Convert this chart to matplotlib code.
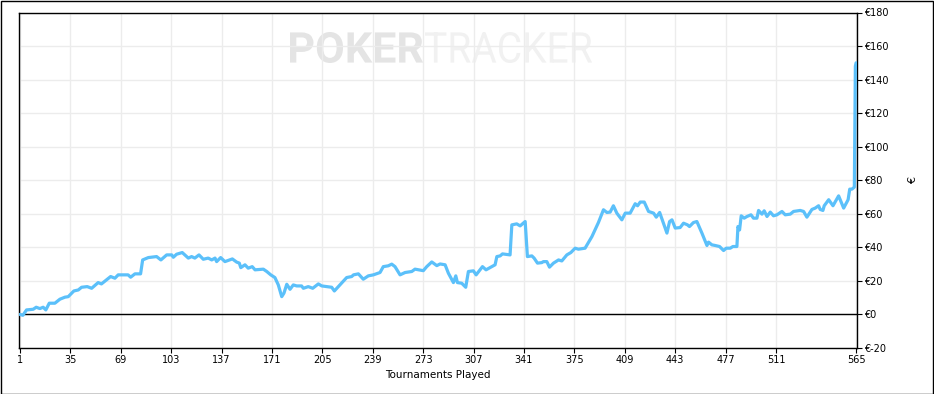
import matplotlib
matplotlib.use("Agg")
import matplotlib.pyplot as plt
from matplotlib.patches import Rectangle, PathPatch
from matplotlib.textpath import TextPath
from matplotlib.font_manager import FontProperties
from matplotlib.transforms import Affine2D

# ---- data ----
tournaments = [1, 3, 5.5, 10, 12, 14.5, 16.7, 18.5, 20.8, 24.6, 28, 31.4, 33.6, 37.4, 40.4,
               42.6, 46.4, 49.4, 53.8, 56, 62.2, 65.1, 67.3, 74, 75.7, 78.6, 82.4, 83.8,
               87.6, 93.2, 96.1, 100, 103.4, 104.5, 106.7, 110.5, 114.6, 116.8, 119, 121.8,
               124.7, 128, 130.4, 132.6, 133.7, 136.4, 139.3, 144.3, 147.2, 149, 150, 152.8,
               155, 157.7, 159.6, 165.2, 167.5, 170.2, 173, 175.3, 177.6, 179.1, 181, 183.2,
               185.4, 187.7, 191, 192.2, 195.5, 198.5, 202.3, 204.6, 208, 211.3, 213.1,
               221.4, 224.8, 226, 229.3, 232.6, 236, 239.4, 243.9, 246.1, 249.5, 251.8, 254,
               257.4, 260.8, 265.3, 267.5, 273.1, 275.4, 278.8, 282.2, 284.4, 287.8, 290,
               293.4, 295, 296.1, 299, 301.7, 303.5, 306.9, 308.7, 313, 315.4, 319.3, 321.5,
               322.7, 324.9, 326.5, 331.6, 332.8, 336.1, 338.4, 341.8, 343.3, 346.3, 347.8,
               350.1, 353, 354.1, 356.4, 358.2, 360.9, 364.3, 366.5, 369.9, 372.6, 375.5,
               377.7, 382.2, 386.8, 391.2, 394.6, 396.9, 399.1, 401.3, 403.6, 407, 409.3,
               412.6, 416, 417.6, 419.4, 422.1, 425, 428.4, 430.2, 432.5, 437.4, 439.2, 440.8,
               443, 446.3, 448.6, 451.3, 452.6, 455.3, 457.6, 461, 464.4, 465.5, 467.7, 470,
               472.9, 475.6, 477.4, 480.1, 481.9, 484.6, 485.3, 486.4, 487.5, 489.5, 491.4,
               494.1, 495.8, 498.1, 499.2, 501.5, 503, 504.9, 507.1, 509.3, 511.6, 515,
               517.2, 520.6, 522.8, 527.3, 529.6, 531.8, 535.2, 537.4, 539.7, 540.8, 542.6,
               543.5, 546.5, 549.4, 553.2, 556.6, 559.6, 560.7, 562.2, 563.8, 564.5, 565]
winnings = [0, -0.5, 2.7, 3.1, 4.3, 3.5, 4.3, 2.7, 6.7, 6.7, 9.1, 10.3, 10.6, 14, 14.6,
            16.2, 16.6, 15.6, 19, 18.2, 22.6, 21.6, 23.6, 23.6, 22.2, 24.2, 24.2, 32.5,
            33.9, 34.5, 32.5, 35.5, 35.5, 34.1, 35.9, 36.9, 33.6, 34.5, 33.6, 35.5,
            32.9, 33.6, 32.5, 33.6, 31.5, 33.9, 31.5, 33.1, 31.2, 30.6, 27.9, 29.6,
            27.6, 28.5, 26.6, 27, 25.6, 23.6, 22, 17.6, 10.6, 12.7, 18, 15,
            17.6, 17, 17, 15.6, 16.6, 15.6, 18.2, 17, 16.6, 16.2, 14,
            22, 22.6, 23.6, 24.2, 21, 23, 23.6, 25, 28.5, 29, 30, 28.5,
            23.6, 25, 25.6, 27, 26.1, 28.5, 31.3, 29.1, 30.1, 29.6, 24.6,
            19, 23, 19, 18.6, 16.2, 25.6, 26, 23.6, 28.5, 26.6, 28.5, 29.6,
            34.5, 34.9, 36.1, 35.5, 53.4, 54, 52.8, 55.4, 34.5, 34.9, 33.6,
            30.6, 30.9, 31.5, 31.5, 28.2, 30.6, 32.5, 31.9, 35.5, 36.9, 39.5,
            38.9, 39.5, 46.4, 54.8, 62.4, 60.8, 61.0, 64.8, 60.4, 56.4, 60.4,
            60.4, 66, 64.8, 67, 67, 61.4, 60.4, 58, 60.8, 48.5, 55.4, 56.4,
            51.5, 51.8, 54.4, 53.4, 52.4, 54.8, 55.4, 48.5, 41.1, 43.1, 41.5, 41.1,
            40.5, 38.1, 39.5, 39.5, 40.5, 40.5, 52.4, 50.4, 58.8, 57.4, 58.4,
            59.4, 57.4, 57.4, 62, 59.8, 61.8, 58.4, 61, 58.8, 59.4, 61.4,
            59.4, 59.8, 61.4, 62, 61.4, 58, 62.6, 63.4, 64.8, 62.6, 62,
            64.8, 68.4, 64.8, 70.7, 63.4, 68.4, 74.7, 74.7, 75.9, 148, 150]

x_ticks = [1, 35, 69, 103, 137, 171, 205, 239, 273, 307, 341, 375, 409, 443, 477, 511, 565]
y_ticks = [-20, 0, 20, 40, 60, 80, 100, 120, 140, 160, 180]
y_tick_labels = ["€" + str(v) for v in y_ticks]

W, H = 934, 394
fig = plt.figure(figsize=(W / 100, H / 100), dpi=100)
fig.patch.set_facecolor("white")

ax = fig.add_axes([19 / W, 1 - 348 / H, (857 - 19) / W, (348 - 12.5) / H])
ax.set_facecolor("white")

ax.set_xlim(0.4, 565.6)
ax.set_ylim(-20, 180)
ax.set_autoscale_on(False)

ax.set_axisbelow("line")
ax.grid(True, color="#ececec", linewidth=1.0)

ax.axhline(0, color="black", linewidth=1.0, zorder=2)
ax.plot(tournaments, winnings, color="#5bc0fa", linewidth=2.3,
        solid_joinstyle="round", solid_capstyle="round", zorder=3)

ax.set_xticks(x_ticks)
ax.set_xticklabels([str(v) for v in x_ticks])
ax.yaxis.tick_right()
ax.yaxis.set_label_position("right")
ax.set_yticks(y_ticks)
ax.set_yticklabels(y_tick_labels)
ax.tick_params(axis="both", labelsize=7, length=3.5, width=0.8, color="black",
               labelcolor="black", pad=1.5)

for s in ax.spines.values():
    s.set_color("black")
    s.set_linewidth(1.0)

ax.set_xlabel("Tournaments Played", fontsize=7.5, labelpad=4)
ax.set_ylabel("€", fontsize=8, rotation=90, labelpad=14)

# watermark (fitted into pixel boxes, drawn beneath the grid)
pix = Affine2D().scale(1 / W, 1 / H) + fig.transFigure


def word(s, x0, x1, ytop, ybot, weight, color):
    fp = FontProperties(family="Roboto", weight=weight)
    tp = TextPath((0, 0), s, size=100, prop=fp)
    ext = tp.get_extents()
    y0, y1 = H - ybot, H - ytop
    tr = (Affine2D().translate(-ext.x0, -ext.y0)
          .scale((x1 - x0) / ext.width, (y1 - y0) / ext.height)
          .translate(x0, y0))
    p = PathPatch(tr.transform_path(tp), transform=pix, facecolor=color,
                  edgecolor="none", zorder=1, clip_on=False)
    ax.add_artist(p)


word("POKER", 290, 423, 32, 63, "bold", "#e4e4e4")
word("TRACKER", 425, 592, 32, 63, "normal", "#f1f1f1")

# outer border
fig.patches.append(Rectangle((0.5 / W, 0.5 / H), (W - 1.5) / W, (H - 1.5) / H,
                             transform=fig.transFigure, fill=False, edgecolor="black",
                             linewidth=1.0))

fig.savefig("out.png", dpi=100)
